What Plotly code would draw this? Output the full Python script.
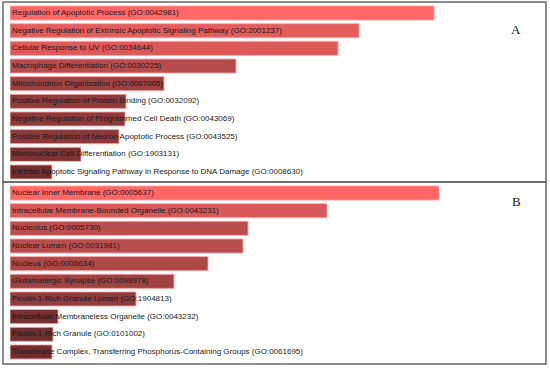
import plotly.graph_objects as go

terms_a = [
    "Regulation of Apoptotic Process (GO:0042981)",
    "Negative Regulation of Extrinsic Apoptotic Signaling Pathway (GO:2001237)",
    "Cellular Response to UV (GO:0034644)",
    "Macrophage Differentiation (GO:0030225)",
    "Mitochondrion Organization (GO:0007005)",
    "Positive Regulation of Protein Binding (GO:0032092)",
    "Negative Regulation of Programmed Cell Death (GO:0043069)",
    "Positive Regulation of Neuron Apoptotic Process (GO:0043525)",
    "Mononuclear Cell Differentiation (GO:1903131)",
    "Intrinsic Apoptotic Signaling Pathway in Response to DNA Damage (GO:0008630)",
]
scores_a = [424, 349, 328, 226, 154, 116, 115, 109, 71, 42]

terms_b = [
    "Nuclear Inner Membrane (GO:0005637)",
    "Intracellular Membrane-Bounded Organelle (GO:0043231)",
    "Nucleolus (GO:0005730)",
    "Nuclear Lumen (GO:0031981)",
    "Nucleus (GO:0005634)",
    "Glutamatergic Synapse (GO:0098978)",
    "Ficolin-1-Rich Granule Lumen (GO:1904813)",
    "Intracellular Membraneless Organelle (GO:0043232)",
    "Ficolin-1-Rich Granule (GO:0101002)",
    "Transferase Complex, Transferring Phosphorus-Containing Groups (GO:0061695)",
]
scores_b = [429, 317, 238, 233, 198, 164, 126, 48, 43, 42]

panel_labels = ["A", "B"]

W, H = 550, 368
colorscale = [[0, "rgb(112,46,46)"], [0.5, "rgb(185,78,78)"], [1, "rgb(255,102,102)"]]

fig = go.Figure()

panels = [
    (terms_a, scores_a, "x", "y"),
    (terms_b, scores_b, "x2", "y2"),
]
for terms, scores, xa, ya in panels:
    fig.add_trace(go.Bar(
        x=scores, y=terms, orientation="h", xaxis=xa, yaxis=ya,
        width=0.8,
        marker=dict(color=scores, colorscale=colorscale, cmin=min(scores), cmax=max(scores),
                    line=dict(color="rgba(255,170,170,0.9)", width=1)),
        hoverinfo="skip", showlegend=False,
    ))
    fig.add_trace(go.Scatter(
        x=[2] * len(terms), y=terms, mode="text", text=terms,
        textposition="middle right", xaxis=xa, yaxis=ya,
        textfont=dict(family="Liberation Sans", size=8, color="#1a1a1a"),
        hoverinfo="skip", showlegend=False,
    ))

xdom = [10 / W, 546 / W]
common_x = dict(range=[0, 536], domain=xdom, visible=False, fixedrange=True)
fig.update_layout(
    width=W, height=H,
    margin=dict(l=0, r=0, t=0, b=0),
    paper_bgcolor="white", plot_bgcolor="white",
    xaxis=dict(**common_x, anchor="y"),
    xaxis2=dict(**common_x, anchor="y2"),
    yaxis=dict(domain=[1 - 180.8 / H, 1 - 4.2 / H], autorange="reversed", visible=False,
               categoryorder="array", categoryarray=terms_a, anchor="x"),
    yaxis2=dict(domain=[1 - 360.8 / H, 1 - 184.2 / H], autorange="reversed", visible=False,
                categoryorder="array", categoryarray=terms_b, anchor="x2"),
    bargap=0.2,
)

# panel frames
for y0, y1 in [(2, 182), (182, 364)]:
    fig.add_shape(type="rect", xref="paper", yref="paper",
                  x0=3 / W, x1=546 / W, y0=1 - y1 / H, y1=1 - y0 / H,
                  line=dict(color="#666", width=1.5), fillcolor="rgba(0,0,0,0)")

for lab, ypx in zip(panel_labels, [20, 201]):
    fig.add_annotation(text=lab, xref="paper", yref="paper", x=523 / W, y=1 - ypx / H,
                       showarrow=False, font=dict(family="Liberation Serif", size=13, color="#111"))

fig.write_html("out.html")
